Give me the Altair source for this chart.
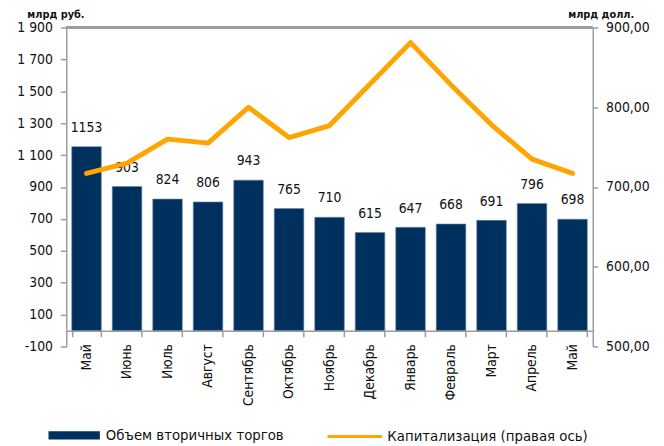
import altair as alt
import pandas as pd

months = ["Май", "Июнь", "Июль", "Август", "Сентябрь", "Октябрь", "Ноябрь",
          "Декабрь", "Январь", "Февраль", "Март", "Апрель", "Май"]
volume = [1153, 903, 824, 806, 943, 765, 710, 615, 647, 668, 691, 796, 698]
capitalization = [717, 730, 760, 755, 800, 762, 777, 829, 881, 828, 778, 735, 717]
left_ticks = list(range(-100, 2000, 200))
right_ticks = [500, 600, 700, 800, 900]
series_bar = "Объем вторичных торгов"
series_line = "Капитализация (правая ось)"

df = pd.DataFrame({
    "idx": list(range(len(months))),
    "month": months,
    "vol": volume,
    "cap": capitalization,
    "s_bar": series_bar,
    "s_line": series_line,
})

FONT = "DejaVu Sans Condensed, DejaVu Sans"
GREY = "#9c9c9c"
NAVY = "#00305E"
ORANGE = "#FFA400"

label_js = "[" + ",".join("'" + m + "'" for m in months) + "][datum.value]"

x_enc = alt.X(
    "idx:O",
    scale=alt.Scale(paddingInner=0.27, paddingOuter=0.135),
    axis=alt.Axis(
        title=None, offset=-16, tickBand="extent", tickSize=6,
        labelAngle=270, labelAlign="right", labelBaseline="middle",
        labelPadding=7, labelExpr=label_js, labelOverlap=False,
        labelFontSize=14, labelFont=FONT, labelColor="#111111",
        domainColor=GREY, tickColor=GREY, domainWidth=1.5, tickWidth=1.5,
    ),
)

y_left = alt.Scale(domain=[-100, 1900], nice=False, zero=False)
y_right = alt.Scale(domain=[500, 900], nice=False, zero=False)

left_axis = alt.Axis(
    values=left_ticks, grid=False, tickSize=6, labelPadding=8,
    labelOverlap=False, labelBound=False,
    labelExpr="replace(replace(format(datum.value, ','), ',', ' '), '\u2212', '-')",
    labelFontSize=14, labelFont=FONT, labelColor="#111111",
    domainColor=GREY, tickColor=GREY, domainWidth=1.5, tickWidth=1.5,
    title="млрд руб.", titleAngle=0, titleX=-11, titleY=-10.5,
    titleAlign="center", titleBaseline="alphabetic",
    titleFont=FONT, titleFontSize=11, titleFontWeight="bold", titleColor="#111111",
)

bars = alt.Chart(df).mark_bar(stroke="#6F86A6", strokeWidth=0.6).encode(
    x=x_enc,
    y=alt.Y("vol:Q", scale=y_left, axis=left_axis),
    fill=alt.Fill(
        "s_bar:N", scale=alt.Scale(domain=[series_bar], range=[NAVY]),
        legend=alt.Legend(
            orient="none", legendX=-18, legendY=387, title=None, padding=0,
            symbolType="M-1,-0.16H1V0.16H-1Z", symbolSize=2704,
            symbolStrokeWidth=0, labelOffset=6, labelFontSize=15, labelLimit=0,
            labelFont=FONT, labelColor="#111111",
        ),
    ),
)

labels = alt.Chart(df).mark_text(
    dy=-15, baseline="alphabetic", align="center", fontSize=14, font=FONT, color="#111111"
).encode(
    x=x_enc,
    y=alt.Y("vol:Q", scale=y_left, axis=left_axis),
    text="vol:Q",
)

top_rule = alt.Chart(df).mark_rule(color=GREY, strokeWidth=1.5).encode(
    y=alt.datum(1900, scale=y_left, axis=left_axis),
)

left = alt.layer(bars, top_rule, labels)

line = alt.Chart(df).mark_line(strokeWidth=5, strokeCap="round", strokeJoin="round").encode(
    x=x_enc,
    y=alt.Y(
        "cap:Q", scale=y_right,
        axis=alt.Axis(
            orient="right", values=right_ticks, grid=False, tickSize=5, labelPadding=8,
            labelOverlap=False, labelBound=False,
            labelExpr="replace(format(datum.value, '.2f'), '.', ',')",
            labelFontSize=14, labelFont=FONT, labelColor="#111111",
            domainColor=GREY, tickColor=GREY, domainWidth=1.5, tickWidth=1.5,
            title="млрд долл.", titleAngle=0, titleX=8, titleY=-10.5,
            titleAlign="center", titleBaseline="alphabetic",
            titleFont=FONT, titleFontSize=11, titleFontWeight="bold", titleColor="#111111",
        ),
    ),
    stroke=alt.Stroke(
        "s_line:N", scale=alt.Scale(domain=[series_line], range=[ORANGE]),
        legend=alt.Legend(
            orient="none", legendX=263, legendY=385, title=None, padding=0,
            symbolType="stroke", symbolSize=3025, symbolStrokeWidth=3,
            labelOffset=4, labelFontSize=15, labelLimit=0,
            labelFont=FONT, labelColor="#111111",
        ),
    ),
)

chart = alt.layer(left, line).resolve_scale(y="independent").properties(
    width=533, height=323,
    padding={"left": 59, "top": 17, "right": 64, "bottom": 98},
    autosize=alt.AutoSizeParams(type="none"),
    background="white",
).configure_view(stroke=None)

chart.save("out.html", embed_options={"renderer": "svg", "actions": False})
